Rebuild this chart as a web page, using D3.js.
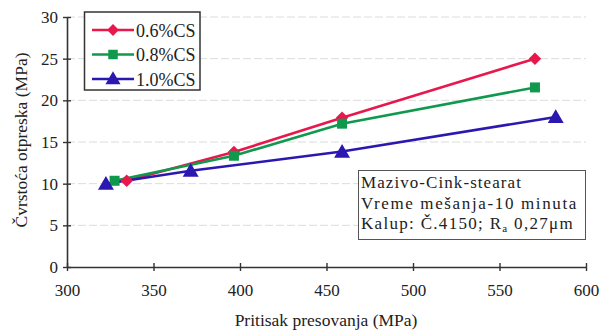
<!DOCTYPE html>
<html><head><meta charset="utf-8">
<script src="https://cdn.jsdelivr.net/npm/d3@7"></script>
<style>body{margin:0;background:#fff}svg{display:block}text{font-family:"Liberation Serif","Times New Roman",serif !important;fill:#222}</style>
</head><body><svg id="c" width="600" height="331" font-family="Liberation Serif, serif"></svg>
<script>
const seriesNames = ["0.6%CS", "0.8%CS", "1.0%CS"];
const x06 = [334.5, 396.5, 459, 570.5];
const y06 = [10.35, 13.8, 17.9, 25.0];
const x08 = [327.5, 396.5, 459, 570.5];
const y08 = [10.35, 13.35, 17.2, 21.55];
const x10 = [322.5, 371.5, 459, 582.5];
const y10 = [10.0, 11.55, 13.85, 18.0];
const xTicks = [300, 350, 400, 450, 500, 550, 600];
const yTicks = [0, 5, 10, 15, 20, 25, 30];
const xTitle = "Pritisak presovanja (MPa)";
const yTitle = "Čvrstoća otpreska (MPa)";
const noteLines = ["Mazivo-Cink-stearat", "Vreme mešanja-10 minuta"];

const colors = ["#e8174c", "#10994c", "#2b18b0"];
const symbols = [d3.symbolSquare, d3.symbolSquare, d3.symbolTriangle];
const symSizes = [78, 100, 110];
const rot = [45, 0, 0];
const series = [[x06, y06], [x08, y08], [x10, y10]].map((s, i) => ({
  name: seriesNames[i], pts: s[0].map((v, j) => [v, s[1][j]])
}));

const svg = d3.select("#c");
const L = 67, R = 586, T = 17, B = 267;
const x = d3.scaleLinear().domain([300, 600]).range([L, R]);
const y = d3.scaleLinear().domain([0, 30]).range([B, T]);

// grid
svg.append("g").selectAll("line").data(yTicks.filter(d => d > 0)).join("line")
  .attr("x1", L).attr("x2", R).attr("y1", d => y(d)).attr("y2", d => y(d))
  .attr("stroke", "#dcdcdc").attr("stroke-width", 1).attr("stroke-dasharray", "8,3");

// axes
const xa = svg.append("g").attr("transform", `translate(0,${B})`)
  .call(d3.axisBottom(x).tickValues(xTicks).tickSize(0).tickPadding(17).tickFormat(d3.format("d")));
const ya = svg.append("g").attr("transform", `translate(${L},0)`)
  .call(d3.axisLeft(y).tickValues(yTicks).tickSize(0).tickPadding(9).tickFormat(d3.format("d")));
[xa, ya].forEach(a => {
  a.attr("font-family", null).attr("font-size", null);
  a.select(".domain").attr("stroke", "#333").attr("stroke-width", 1.6);
  a.selectAll("text").attr("font-size", 17).attr("fill", "#222");
});
xa.selectAll(".tick").append("line").attr("y1", -4).attr("y2", 4).attr("stroke", "#333").attr("stroke-width", 1.4);
ya.selectAll(".tick").append("line").attr("x1", -4).attr("x2", 4).attr("stroke", "#333").attr("stroke-width", 1.4);

svg.append("text").attr("x", 326).attr("y", 326).attr("text-anchor", "middle")
  .attr("font-size", 17.5).text(xTitle);
svg.append("text").attr("transform", `translate(27,140) rotate(-90)`)
  .attr("text-anchor", "middle").attr("font-size", 17.5).text(yTitle);

// lines
const line = d3.line().x(d => x(d[0])).y(d => y(d[1]));
series.forEach((s, i) => {
  svg.append("path").datum(s.pts).attr("d", line).attr("fill", "none")
    .attr("stroke", colors[i]).attr("stroke-width", 2.6);
});
series.forEach((s, i) => {
  svg.append("g").selectAll("path").data(s.pts).join("path")
    .attr("transform", d => `translate(${x(d[0])},${y(d[1]) + (i === 2 ? 1.5 : 0)}) rotate(${rot[i]})`)
    .attr("d", d3.symbol(symbols[i], symSizes[i])).attr("fill", colors[i]);
});

// legend
const lg = svg.append("g");
lg.append("rect").attr("x", 84.5).attr("y", 12).attr("width", 115.5).attr("height", 78)
  .attr("fill", "#fff").attr("stroke", "#333").attr("stroke-width", 1.5);
series.forEach((s, i) => {
  const yy = 30 + i * 24.5;
  lg.append("line").attr("x1", 92).attr("x2", 134).attr("y1", yy).attr("y2", yy)
    .attr("stroke", colors[i]).attr("stroke-width", 2.6);
  lg.append("path").attr("transform", `translate(113,${yy + (i === 2 ? 1 : 0)}) rotate(${rot[i]})`)
    .attr("d", d3.symbol(symbols[i], symSizes[i] * 0.9)).attr("fill", colors[i]);
  lg.append("text").attr("x", 136).attr("y", yy + 6.5).attr("font-size", 18).text(s.name);
});

// annotation
const ng = svg.append("g");
ng.append("rect").attr("x", 358.5).attr("y", 170.5).attr("width", 227).attr("height", 69)
  .attr("fill", "#fff").attr("stroke", "#555").attr("stroke-width", 1);
const targets = [161, 217, 213];
function fit(t, w) {
  const n = t.text().length;
  const len = t.node().getComputedTextLength();
  t.attr("letter-spacing", Math.max(0, (w - len) / n));
}
noteLines.forEach((s, i) => {
  const t = ng.append("text").attr("x", 361).attr("y", 188 + i * 20.5).attr("font-size", 17).text(s);
  fit(t, targets[i]);
});
const t3 = ng.append("text").attr("x", 361).attr("y", 229).attr("font-size", 17);
t3.append("tspan").text("Kalup: Č.4150; R");
t3.append("tspan").attr("font-size", 11).attr("dy", 3).text("a");
t3.append("tspan").attr("dy", -3).text(" 0,27μm");
fit(t3, targets[2]);
</script></body></html>
